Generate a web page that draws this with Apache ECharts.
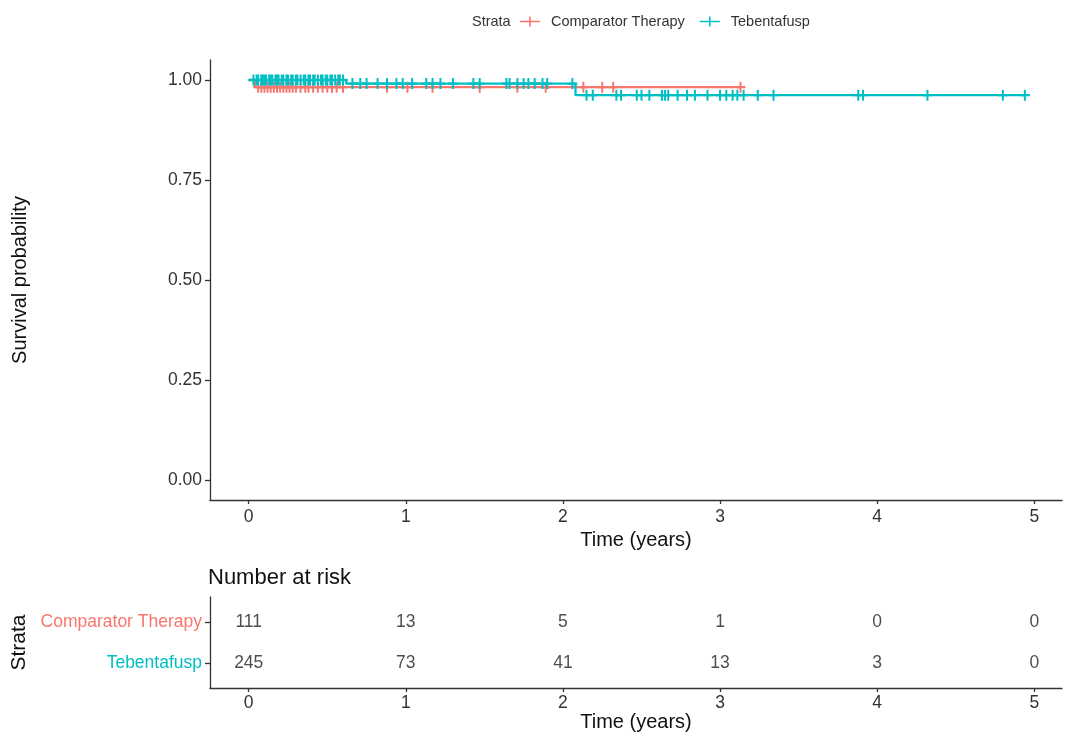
<!DOCTYPE html>
<html>
<head>
<meta charset="utf-8">
<title>Survival by strata</title>
<script src="https://cdn.jsdelivr.net/npm/echarts@6/dist/echarts.min.js"></script>
<style>
  html, body { margin: 0; padding: 0; background: #fff; }
  #chart { width: 1067px; height: 736px; }
</style>
</head>
<body>
<div id="chart"></div>
<script>
// Strata names and colours
const strata = ['Comparator Therapy', 'Tebentafusp'];
const strataColors = ['#F8766D', '#00BFC4'];

// Kaplan-Meier step points (time in years, survival probability)
const compTimes = [0, 0.04, 3.13];
const compSurv = [1.0, 0.982, 0.982];
const tebTimes = [0, 0.62, 2.08, 4.94];
const tebSurv = [1.0, 0.991, 0.962, 0.962];

// Censoring times (years)
const compCensor = [0.06, 0.08, 0.10, 0.12, 0.14, 0.16, 0.18, 0.20, 0.22, 0.24, 0.26, 0.28,
  0.30, 0.33, 0.36, 0.38, 0.41, 0.44, 0.47, 0.50, 0.53, 0.56, 0.60,
  0.88, 1.01, 1.17, 1.47, 1.71, 1.89, 2.13, 2.25, 2.32, 3.13];
const tebCensor = [0.03, 0.05, 0.06, 0.08, 0.09, 0.10, 0.11, 0.13, 0.14, 0.15, 0.17, 0.18,
  0.19, 0.21, 0.22, 0.24, 0.25, 0.27, 0.28, 0.30, 0.31, 0.33, 0.35, 0.36, 0.38, 0.39,
  0.41, 0.42, 0.44, 0.46, 0.47, 0.49, 0.50, 0.52, 0.53, 0.55, 0.57, 0.58, 0.60,
  0.66, 0.71, 0.75, 0.82, 0.88, 0.94, 0.98, 1.04, 1.13, 1.17, 1.22, 1.30, 1.43, 1.47,
  1.64, 1.66, 1.71, 1.75, 1.78, 1.82, 1.87, 1.90, 2.06,
  2.15, 2.19, 2.34, 2.37, 2.47, 2.50, 2.55, 2.63, 2.65, 2.67, 2.73, 2.79, 2.84, 2.92,
  3.00, 3.04, 3.08, 3.11, 3.15, 3.24, 3.34, 3.88, 3.91, 4.32, 4.80, 4.94];

// Number at risk table
const riskTimes = [0, 1, 2, 3, 4, 5];
const compAtRisk = [111, 13, 5, 1, 0, 0];
const tebAtRisk = [245, 73, 41, 13, 3, 0];

// Axis ticks
const timeTicks = [0, 1, 2, 3, 4, 5];
const survTicks = [0, 0.25, 0.5, 0.75, 1.0];

const FONT = "'Liberation Sans', Arial, Helvetica, sans-serif";
const PLUS = 'path://M4,0H6V4H10V6H6V10H4V6H0V4H4Z';
const LEGEND_ICON = 'path://M0,4.2H9.2V0H10.8V4.2H20V5.8H10.8V10H9.2V5.8H0Z';

// survival value of a step curve at time t
function survAt(times, surv, t) {
  let s = surv[0];
  for (let i = 0; i < times.length; i++) {
    if (times[i] <= t) s = surv[i];
  }
  return s;
}
const zip = (xs, ys) => xs.map((x, i) => [x, ys[i]]);

const xMin = -0.2465, xMax = 5.1765;

const chart = echarts.init(document.getElementById('chart'), null, { renderer: 'canvas' });

const axisLineStyle = { color: '#333', width: 1.3 };

chart.setOption({
  animation: false,
  textStyle: { fontFamily: FONT },
  legend: {
    left: 515,
    top: 9,
    itemWidth: 20,
    itemHeight: 10,
    itemGap: 15,
    textStyle: { fontSize: 14.5, color: '#333', fontFamily: FONT, padding: [0, 0, 0, 6] },
    data: strata.map((name, i) => ({ name, icon: LEGEND_ICON, itemStyle: { color: strataColors[i] } }))
  },
  graphic: [
    { type: 'text', left: 472, top: 14, style: { text: 'Strata', fontSize: 14.5, fill: '#333', fontFamily: FONT } },
    { type: 'text', left: 208, top: 567, style: { text: 'Number at risk', fontSize: 22, fill: '#111', fontFamily: FONT } }
  ],
  grid: [
    { left: 210, right: 5, top: 60, bottom: 236, outerBoundsMode: 'none' },
    { left: 210, right: 5, top: 597, bottom: 48, outerBoundsMode: 'none' }
  ],
  xAxis: [
    {
      gridIndex: 0, type: 'value', min: xMin, max: xMax,
      name: 'Time (years)', nameLocation: 'middle', nameGap: 27,
      nameTextStyle: { fontSize: 20, color: '#111' },
      axisLine: { show: true, onZero: false, lineStyle: axisLineStyle },
      axisTick: { show: true, length: 4, customValues: timeTicks, lineStyle: axisLineStyle },
      axisLabel: { customValues: timeTicks, fontSize: 17.5, color: '#333', margin: 8 },
      splitLine: { show: false }
    },
    {
      gridIndex: 1, type: 'value', min: xMin, max: xMax,
      name: 'Time (years)', nameLocation: 'middle', nameGap: 24,
      nameTextStyle: { fontSize: 20, color: '#111' },
      axisLine: { show: true, onZero: false, lineStyle: axisLineStyle },
      axisTick: { show: true, length: 4, customValues: timeTicks, lineStyle: axisLineStyle },
      axisLabel: { customValues: timeTicks, fontSize: 17.5, color: '#333', margin: 6 },
      splitLine: { show: false }
    }
  ],
  yAxis: [
    {
      gridIndex: 0, type: 'value', min: -0.05, max: 1.05,
      name: 'Survival probability', nameLocation: 'middle', nameGap: 180,
      nameTextStyle: { fontSize: 20, color: '#111' },
      axisLine: { show: true, onZero: false, lineStyle: axisLineStyle },
      axisTick: { show: true, length: 5, customValues: survTicks, lineStyle: axisLineStyle },
      axisLabel: { customValues: survTicks, fontSize: 17.5, color: '#333', margin: 8,
        formatter: v => v.toFixed(2) },
      splitLine: { show: false }
    },
    {
      gridIndex: 1, type: 'value', min: 0.4, max: 2.6,
      name: 'Strata', nameLocation: 'middle', nameGap: 176,
      nameTextStyle: { fontSize: 21, color: '#111' },
      axisLine: { show: true, onZero: false, lineStyle: axisLineStyle },
      axisTick: { show: true, length: 5, customValues: [1, 2], lineStyle: axisLineStyle },
      axisLabel: {
        customValues: [1, 2], margin: 8,
        formatter: v => (v === 2 ? '{c|' + strata[0] + '}' : '{t|' + strata[1] + '}'),
        rich: {
          c: { fontSize: 17.5, color: strataColors[0], fontFamily: FONT },
          t: { fontSize: 17.5, color: strataColors[1], fontFamily: FONT }
        }
      },
      splitLine: { show: false }
    }
  ],
  series: [
    {
      name: strata[0], type: 'line', step: 'end', xAxisIndex: 0, yAxisIndex: 0,
      data: zip(compTimes, compSurv), showSymbol: false, symbol: 'none', z: 2,
      lineStyle: { color: strataColors[0], width: 2.3 }, itemStyle: { color: strataColors[0] }
    },
    {
      name: strata[1], type: 'line', step: 'end', xAxisIndex: 0, yAxisIndex: 0,
      data: zip(tebTimes, tebSurv), showSymbol: false, symbol: 'none', z: 3,
      lineStyle: { color: strataColors[1], width: 2.3 }, itemStyle: { color: strataColors[1] }
    },
    {
      name: strata[0], type: 'scatter', xAxisIndex: 0, yAxisIndex: 0, z: 4,
      symbol: PLUS, symbolSize: [10, 11],
      itemStyle: { color: strataColors[0], opacity: 1 },
      data: compCensor.map(t => [t, survAt(compTimes, compSurv, t)])
    },
    {
      name: strata[1], type: 'scatter', xAxisIndex: 0, yAxisIndex: 0, z: 5,
      symbol: PLUS, symbolSize: [10, 11],
      itemStyle: { color: strataColors[1], opacity: 1 },
      data: tebCensor.map(t => [t, survAt(tebTimes, tebSurv, t)])
    },
    {
      type: 'scatter', xAxisIndex: 1, yAxisIndex: 1, symbolSize: 1,
      itemStyle: { color: 'transparent' }, silent: true,
      label: { show: true, position: 'inside', fontSize: 17.5, color: '#222',
        formatter: p => String(p.value[2]) },
      data: riskTimes.map((t, i) => [t, 2, compAtRisk[i]])
        .concat(riskTimes.map((t, i) => [t, 1, tebAtRisk[i]]))
    }
  ]
});
</script>
</body>
</html>
